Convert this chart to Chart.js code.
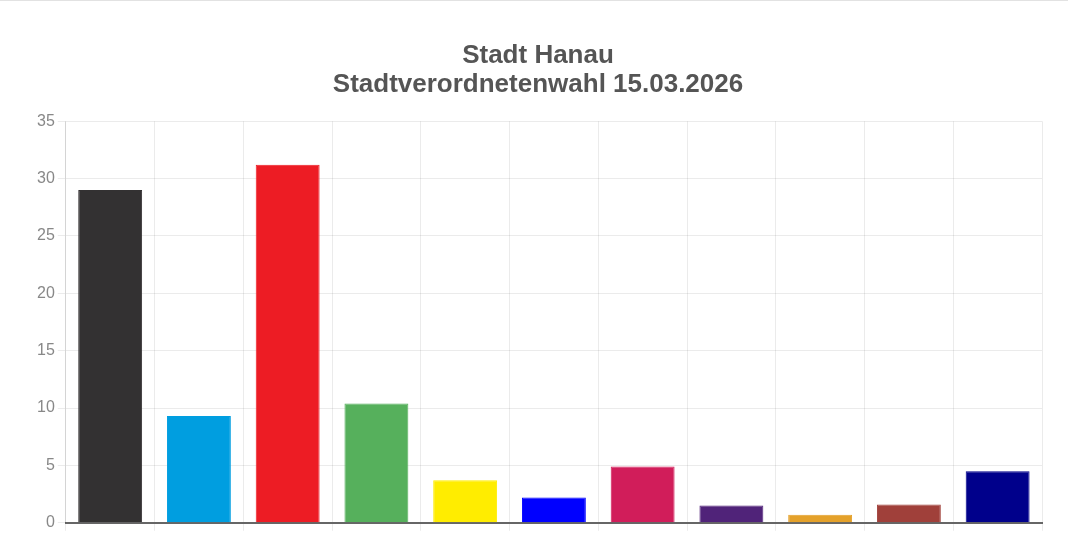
<!DOCTYPE html>
<html lang="de">
<head>
<meta charset="utf-8">
<title>Stadt Hanau – Stadtverordnetenwahl 15.03.2026</title>
<script src="https://cdn.jsdelivr.net/npm/chart.js@4/dist/chart.umd.min.js"></script>
<style>
  html, body { margin: 0; padding: 0; overflow: hidden; background: #fff; }
  #wrap { position: relative; width: 1068px; height: 556px; border-top: 1px solid #e2e2e2; box-sizing: border-box; }
</style>
</head>
<body>
<div id="wrap"><canvas id="chart"></canvas></div>
<script>
const parties = ['CDU', 'AfD', 'SPD', 'GRÜNE', 'FDP', 'BfH', 'DIE LINKE', 'Volt', 'FW', 'Die PARTEI', 'BSW'];
const percent = [29.0, 9.3, 31.2, 10.4, 3.7, 2.2, 4.9, 1.5, 0.7, 1.6, 4.5];
const partyColors = ['#333132', '#009ee0', '#ed1c24', '#56b05c', '#ffed00', '#0000ff',
  '#d11d5a', '#502379', '#e4a12a', '#a0403a', '#00008b'];
const yTicks = [0, 5, 10, 15, 20, 25, 30, 35];

Chart.defaults.font.family = '"Liberation Sans", Arial, sans-serif';

const ctx = document.getElementById('chart').getContext('2d');
new Chart(ctx, {
  type: 'bar',
  data: {
    labels: parties,
    datasets: [{
      label: 'Stimmen in %',
      data: percent,
      backgroundColor: partyColors,
      borderColor: partyColors,
      borderWidth: 1
    }]
  },
  options: {
    responsive: true,
    maintainAspectRatio: false,
    animation: false,
    layout: { padding: { top: 30, left: 34, right: 26, bottom: 0 } },
    plugins: {
      legend: { display: false },
      tooltip: { enabled: false },
      title: {
        display: true,
        text: ['Stadt Hanau', 'Stadtverordnetenwahl 15.03.2026'],
        color: '#555',
        font: { size: 26, weight: 'bold', lineHeight: 1.12 },
        padding: { top: 10, bottom: 22 }
      }
    },
    scales: {
      x: {
        grid: { color: 'rgba(0,0,0,0.08)' },
        border: { color: '#666', width: 2 },
        ticks: { color: '#888', font: { size: 16 }, maxRotation: 0, minRotation: 0, autoSkip: false }
      },
      y: {
        min: 0,
        max: 35,
        afterBuildTicks: axis => { axis.ticks = yTicks.map(v => ({ value: v })); },
        grid: { color: 'rgba(0,0,0,0.08)' },
        border: { color: 'rgba(0,0,0,0.1)' },
        ticks: { color: '#888', font: { size: 16 } }
      }
    }
  }
});
</script>
</body>
</html>
